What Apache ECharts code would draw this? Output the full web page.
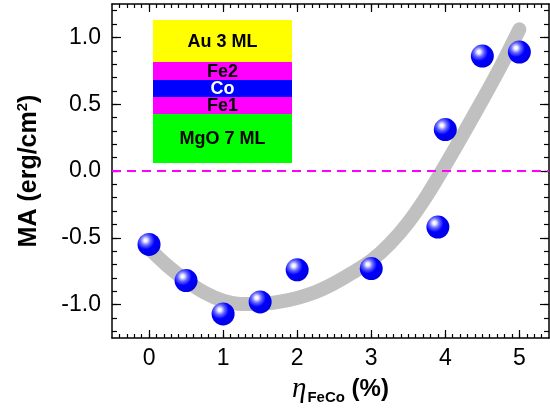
<!DOCTYPE html>
<html>
<head>
<meta charset="utf-8">
<script src="https://cdn.jsdelivr.net/npm/echarts@6/dist/echarts.min.js"></script>
<style>
html,body{margin:0;padding:0;background:#fff;}
#chart{width:550px;height:414px;}
</style>
</head>
<body>
<div id="chart"></div>
<script>
// ---- data ----
const etaPoints = [0, 0.5, 1, 1.5, 2, 3, 3.9, 4, 4.5, 5];
const maPoints  = [-0.55, -0.82, -1.07, -0.98, -0.74, -0.73, -0.42, 0.31, 0.86, 0.89];
const fitX = [0, 0.25, 0.5, 0.75, 1, 1.25, 1.5, 1.75, 2, 2.25, 2.5, 2.75, 3, 3.25, 3.5, 3.75, 4, 4.25, 4.5, 4.75, 5];
const fitY = [-0.58, -0.71, -0.82, -0.91, -0.97, -0.995, -0.995, -0.98, -0.95, -0.905, -0.84, -0.76, -0.67, -0.545, -0.385, -0.185, 0.045, 0.285, 0.53, 0.785, 1.06];
const xTickLabels = [0, 1, 2, 3, 4, 5];
const yTickLabels = [-1.0, -0.5, 0.0, 0.5, 1.0];
const xMinorTicks = [];
for (let i = -4; i <= 53; i++) xMinorTicks.push(Math.round(i) / 10);
const yMinorTicks = [];
for (let i = -12; i <= 12; i++) yMinorTicks.push(Math.round(i) / 10);
const layers = ['Au 3 ML', 'Fe2', 'Co', 'Fe1', 'MgO 7 ML'];

const X_MIN = -0.5, X_MAX = 5.4, Y_MIN = -1.25, Y_MAX = 1.25;
const FONT = '"Liberation Sans", Arial, sans-serif';

function xAx(pos, ticks, len, withLabels, showLine, extra) {
  return Object.assign({
    type: 'value', position: pos, min: X_MIN, max: X_MAX,
    axisLine: { show: showLine, onZero: false, lineStyle: { color: '#000', width: 1.5 } },
    axisTick: { show: true, inside: true, length: len, customValues: ticks, lineStyle: { color: '#000', width: 1.2 } },
    axisLabel: withLabels ? { show: true, customValues: xTickLabels, fontSize: 23, color: '#000', fontFamily: FONT, margin: 9,
      formatter: v => String(v) } : { show: false },
    splitLine: { show: false }
  }, extra || {});
}
function yAx(pos, ticks, len, withLabels, showLine, extra) {
  return Object.assign({
    type: 'value', position: pos, min: Y_MIN, max: Y_MAX,
    axisLine: { show: showLine, onZero: false, lineStyle: { color: '#000', width: 1.5 } },
    axisTick: { show: true, inside: true, length: len, customValues: ticks, lineStyle: { color: '#000', width: 1.2 } },
    axisLabel: withLabels ? { show: true, customValues: yTickLabels, fontSize: 23, color: '#000', fontFamily: FONT, margin: 11,
      formatter: v => v.toFixed(1) } : { show: false },
    splitLine: { show: false }
  }, extra || {});
}

const chart = echarts.init(document.getElementById('chart'), null, { renderer: 'canvas' });

const L = 153, R = 292;
const bands = [
  { y0: 20, y1: 62, color: '#ffff00', text: layers[0], tc: '#000' },
  { y0: 62, y1: 80, color: '#ff00ff', text: layers[1], tc: '#000' },
  { y0: 80, y1: 97, color: '#0000ff', text: layers[2], tc: '#fff' },
  { y0: 97, y1: 114, color: '#ff00ff', text: layers[3], tc: '#000' },
  { y0: 114, y1: 163, color: '#00ff00', text: layers[4], tc: '#000' }
];
const graphics = [];
bands.forEach(b => {
  graphics.push({ type: 'rect', shape: { x: L, y: b.y0, width: R - L, height: b.y1 - b.y0 }, style: { fill: b.color }, z: 5 });
});
bands.forEach(b => {
  graphics.push({ type: 'text', x: (L + R) / 2, y: (b.y0 + b.y1) / 2 + 1, z: 6,
    style: { text: b.text, fill: b.tc, font: 'bold 18px ' + FONT, align: 'center', verticalAlign: 'middle' } });
});

chart.setOption({
  animation: false,
  backgroundColor: '#fff',
  grid: { left: 112, right: 1, top: 4, bottom: 76, containLabel: false },
  xAxis: [
    xAx('bottom', xTickLabels, 8, true, true, {
      name: '{eta|η}{sub|FeCo}{b| (%)}', nameLocation: 'middle', nameGap: 29,
      nameTextStyle: { color: '#000', padding: [0, 0, 0, 20], rich: {
        eta: { fontSize: 29, fontStyle: 'italic', fontFamily: '"Liberation Serif", serif', color: '#000' },
        sub: { fontSize: 15, fontWeight: 'bold', fontFamily: FONT, color: '#000', padding: [16, 0, 0, 1] },
        b: { fontSize: 24, fontWeight: 'bold', fontFamily: FONT, color: '#000' }
      } }
    }),
    xAx('bottom', xMinorTicks, 4, false, false),
    xAx('top', xTickLabels, 8, false, true),
    xAx('top', xMinorTicks, 4, false, false)
  ],
  yAxis: [
    yAx('left', yTickLabels, 9, true, true, {
      name: 'MA (erg/cm{sup|2})', nameLocation: 'middle', nameGap: 68,
      nameTextStyle: { color: '#000', fontSize: 25, fontWeight: 'bold', fontFamily: FONT, rich: {
        sup: { fontSize: 15, fontWeight: 'bold', fontFamily: FONT, color: '#000', padding: [0, 0, 14, 0] }
      } }
    }),
    yAx('left', yMinorTicks, 5, false, false),
    yAx('right', yTickLabels, 9, false, true),
    yAx('right', yMinorTicks, 5, false, false)
  ],
  graphic: graphics,
  series: [
    {
      type: 'line', xAxisIndex: 0, yAxisIndex: 0,
      data: fitX.map((x, i) => [x, fitY[i]]),
      smooth: 0.3, showSymbol: false, silent: true, z: 2,
      lineStyle: { color: '#c0c0c0', width: 14, cap: 'round', join: 'round' },
      markLine: {
        silent: true, symbol: 'none', label: { show: false },
        lineStyle: { color: '#ff00ff', width: 1.8, type: [9, 6] },
        data: [{ yAxis: 0 }]
      }
    },
    {
      type: 'scatter', xAxisIndex: 0, yAxisIndex: 0, z: 4,
      data: etaPoints.map((x, i) => [x, maPoints[i]]),
      symbol: 'circle', symbolSize: 23,
      itemStyle: {
        color: { type: 'radial', x: 0.35, y: 0.32, r: 0.72, colorStops: [
          { offset: 0, color: '#ffffff' },
          { offset: 0.1, color: '#f0f0ff' },
          { offset: 0.3, color: '#6868ff' },
          { offset: 0.55, color: '#0000ff' },
          { offset: 1, color: '#0000e0' }
        ] },
        opacity: 1
      }
    }
  ]
});
</script>
</body>
</html>
